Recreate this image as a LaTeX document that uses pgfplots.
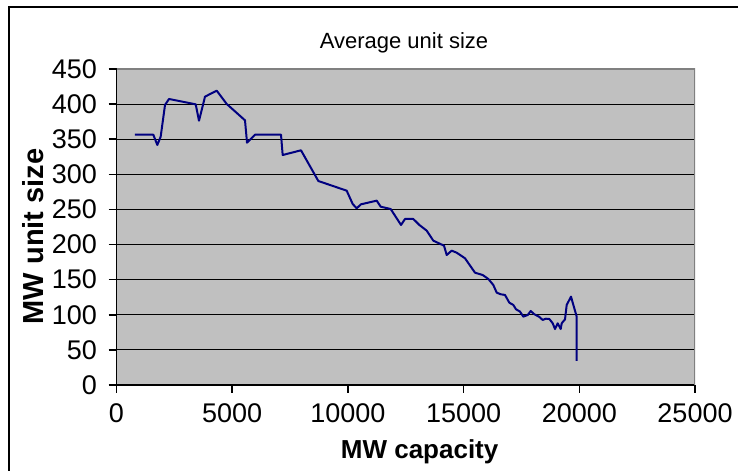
\documentclass[border=0pt]{standalone}
\usepackage{pgfplots}
\pgfplotsset{compat=1.18}
\usepackage{fontspec}
\setmainfont{Liberation Sans}
\definecolor{plotbg}{RGB}{192,192,192}
\definecolor{framegray}{RGB}{128,128,128}
\definecolor{seriesnavy}{RGB}{0,0,128}

\begin{document}
\begin{tikzpicture}[x=1bp,y=1bp]
\path[use as bounding box] (0,0) rectangle (738,471);
% chart area frame
\draw[line width=2bp] (9,-20) rectangle (760,464.3);
\node[font=\fontsize{22bp}{25bp}\selectfont] at (404,428) {Average unit size};
\begin{axis}[
  at={(116.5bp,86bp)}, anchor=south west,
  scale only axis, width=578.5bp, height=316bp,
  xmin=0, xmax=25000, ymin=0, ymax=450,
  xtick={0,5000,...,25000}, ytick={0,50,...,450},
  scaled x ticks=false,
  /pgf/number format/assume math mode=true,
  /pgf/number format/1000 sep={},
  axis background/.style={fill=plotbg},
  axis x line*=bottom, axis y line*=left,
  ymajorgrids, grid style={black, line width=1bp},
  tick align=outside, major tick length=8bp,
  tick style={black, line width=1.5bp},
  axis line style={black, line width=1.5bp, -},
  ticklabel style={font=\fontsize{27bp}{30bp}\selectfont},
  xticklabel style={yshift=-7bp},
  yticklabel style={xshift=-8bp},
  xlabel={MW capacity}, ylabel={MW unit size},
  every axis x label/.style={at={(axis description cs:0.524,0)}, yshift=-67bp, anchor=center,
    font=\bfseries\fontsize{26bp}{29bp}\selectfont},
  every axis y label/.style={at={(axis description cs:-0.1443,0.47)}, anchor=center, rotate=90,
    font=\bfseries\fontsize{29bp}{32bp}\selectfont},
]
\addplot[seriesnavy, line width=2bp, line join=round] coordinates {
(799,356.4) (1591,356.4) (1764,341.8) (1909,353.6) (2096,398.7) (2269,407.3)
(3422,399.7) (3565,376.4) (3824,410.6) (4330,419.1) (4762,400.2) (5553,376.9)
(5640,345.1) (5985,356.4) (7109,356.4) (7181,327.5) (7973,334.2) (8722,290.5)
(9947,276.7) (10206,257.8) (10379,251.6) (10566,257.3) (11244,262.5) (11417,253.9)
(11849,250.6) (12295,227.9) (12468,236.4) (12826,236.4) (13087,227.9) (13405,219.8)
(13691,205.5) (14153,198.4) (14270,185.1) (14485,191.3) (14701,188.4) (15061,180.4)
(15493,159.9) (15826,156.6) (16068,151) (16284,142.4) (16430,131.5) (16603,129.2)
(16789,128.2) (16975,117.2) (17148,114) (17265,107.8) (17437,104.5) (17580,97.3)
(17770,99.7) (17900,105.4) (18056,100.7) (18259,97.3) (18418,92.6) (18548,94.4)
(18704,94) (18851,87.9) (18950,79.7) (19066,87.9) (19196,79.7) (19239,87.9)
(19382,93.5) (19455,114) (19641,125.8) (19887,97.3) (19887,34.2)
};
% plot area border on the top and right
\draw[framegray, line width=1.5bp] (rel axis cs:0,1) -- (rel axis cs:1,1) -- (rel axis cs:1,0);
\end{axis}
\end{tikzpicture}
\end{document}
